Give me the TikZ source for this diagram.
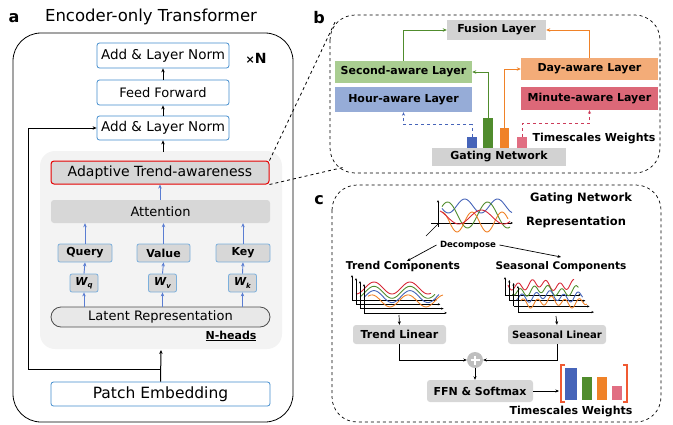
\documentclass[tikz,border=0pt]{standalone}
\usepackage{fontspec}
\setmainfont{DejaVu Sans}
\usetikzlibrary{arrows.meta,calc}
\definecolor{lblue}{RGB}{66,140,205}
\definecolor{arrblue}{RGB}{90,125,210}
\definecolor{panelgray}{RGB}{243,243,243}
\definecolor{boxgray}{RGB}{215,215,215}
\definecolor{latgray}{RGB}{232,232,232}
\definecolor{fgray}{RGB}{210,210,210}
\definecolor{lgreen}{RGB}{169,205,145}
\definecolor{lbluefill}{RGB}{150,172,215}
\definecolor{lorange}{RGB}{243,172,120}
\definecolor{lpink}{RGB}{220,104,120}
\definecolor{cgreen}{RGB}{80,140,45}
\definecolor{cblue}{RGB}{70,100,185}
\definecolor{corange}{RGB}{240,130,40}
\definecolor{cpink}{RGB}{225,110,130}
\definecolor{cred}{RGB}{215,40,55}
\definecolor{dpink}{RGB}{205,60,90}
\definecolor{brk}{RGB}{240,90,50}
\newcommand\fs[1]{\fontsize{#1}{#1}\selectfont}
\begin{document}
\begin{tikzpicture}[x=1pt,y=-1pt,
  bbox/.style={draw=lblue,line width=0.8pt,rounded corners=2.5pt,fill=white,inner sep=0pt},
  qbox/.style={draw=lblue!70,line width=0.8pt,rounded corners=2pt,fill=boxgray,inner sep=0pt},
  gbox/.style={fill=fgray,inner sep=0pt},
  rbox/.style={fill=boxgray,rounded corners=3pt,inner sep=0pt},
  blk/.style={-{Stealth[length=4pt,width=3.5pt]},line width=1pt},
  blu/.style={-{Stealth[length=4pt,width=3.5pt]},line width=0.9pt,draw=arrblue},
  thn/.style={-{Stealth[length=3.5pt,width=3pt]},line width=0.7pt},
  lay/.style={inner sep=0pt,font=\fs{11}\bfseries},
  ax/.style={-{Stealth[length=2.5pt,width=2.2pt]},line width=0.6pt},
  cv/.style={line width=0.9pt}]
\useasboundingbox (0,0) rectangle (673,424);
% ---------------- panel a ----------------
\node (la) at (14,18) {\fs{16}\bfseries a};
\node (ta) at (151,17) {\fs{16.5}Encoder-only Transformer};
\draw[line width=0.8pt,rounded corners=28pt] (13,33) rectangle (293,422);
\node (aln2) [bbox,minimum width=132pt,minimum height=25pt] at (163,55.5) {\fs{13.5}Add \& Layer Norm};
\node (xn) at (256,58) {{\fs{11}\bfseries ×}{\fs{14}\bfseries N}};
\node (ff) [bbox,minimum width=132pt,minimum height=25pt] at (163,92.5) {\fs{13}Feed Forward};
\node (aln1) [bbox,minimum width=132pt,minimum height=24pt] at (163,128) {\fs{13.5}Add \& Layer Norm};
\fill[panelgray,rounded corners=15pt] (40,151) rectangle (282,349);
\coordinate (ptop) at (163,152);
\coordinate (pbot) at (161,350);
\node (ata) [draw=red!90!black,line width=1pt,fill=boxgray,rounded corners=3pt,inner sep=0pt,minimum width=218pt,minimum height=23pt] at (160,172.5) {\fs{14}Adaptive Trend-awareness};
\node (att) [rbox,minimum width=219pt,minimum height=23pt] at (160.5,211.5) {\fs{13}Attention};
\node (qu) [qbox,minimum width=54pt,minimum height=18pt] at (85,253) {\fs{11}\bfseries Query};
\node (va) [qbox,minimum width=53pt,minimum height=18pt] at (163.5,253) {\fs{11}\bfseries Value};
\node (ke) [qbox,minimum width=54pt,minimum height=18pt] at (243,253) {\fs{11}\bfseries Key};
\node (wq) [qbox,minimum width=28pt,minimum height=18pt] at (84,283) {\fs{11}\bfseries\itshape W\raisebox{-2.5pt}{\fs{7}q}};
\node (wv) [qbox,minimum width=28pt,minimum height=18pt] at (162.5,283) {\fs{11}\bfseries\itshape W\raisebox{-2.5pt}{\fs{7}v}};
\node (wk) [qbox,minimum width=28pt,minimum height=18pt] at (242.5,283) {\fs{11}\bfseries\itshape W\raisebox{-2.5pt}{\fs{7}k}};
\node (lat) [draw=black!70,line width=0.8pt,fill=latgray,rounded corners=10pt,inner sep=0pt,minimum width=219pt,minimum height=20pt] at (160.5,317) {\fs{13}Latent Representation};
\node (nh) at (231,336) {\fs{11}\bfseries\underline{N-heads}};
\node (pe) [bbox,minimum width=219pt,minimum height=24pt] at (160.5,394) {\fs{15.5}Patch Embedding};
% arrows a
\draw[blk] (aln1.north) -- (ff.south);
\draw[blk] (ff.north) -- (aln2.south);
\draw[blk] (ptop) -- (aln1.south);
\draw[blu] (att.north -| ata.south) -- (ata.south);
\foreach \w/\q in {wq/qu,wv/va,wk/ke}{
  \draw[blu] (lat.north -| \w.south) -- (\w.south);
  \draw[blu] (\w.north) -- (\q.south);
  \draw[blu] (\q.north) -- (att.south -| \q.north);
}
\coordinate (j) at (161,369);
\draw[blk] (pe.north) -- (pbot);
\draw[line width=1pt] (j) -- (28,369) -- (28,128);
\draw[blk] (28,128) -- (aln1.west);
% ---------------- panel b ----------------
\node (lb) at (319,18) {\fs{16}\bfseries b};
\draw[dashed,line width=0.7pt,rounded corners=25pt] (330,15) rectangle (660,173);
\coordinate (bc1) at (336,20);
\coordinate (bc2) at (345,167);
\draw[dashed,line width=0.8pt] (ata.north east) -- (bc1);
\draw[dashed,line width=0.8pt] (ata.south east) -- (bc2);
\node (fu) [gbox,minimum width=99pt,minimum height=20pt,font=\fs{11}\bfseries] at (496.5,30) {Fusion Layer};
\node (se) [lay,fill=lgreen,minimum width=137pt,minimum height=22pt] at (403.5,72) {Second-aware Layer};
\node (ho) [lay,fill=lbluefill,minimum width=137pt,minimum height=25pt] at (403.5,99.5) {Hour-aware Layer};
\node (da) [lay,fill=lorange,minimum width=137pt,minimum height=22pt] at (589.5,69) {Day-aware Layer};
\node (mi) [lay,fill=lpink,minimum width=137pt,minimum height=23pt] at (589.5,98.5) {Minute-aware Layer};
\node (ga) [gbox,minimum width=134pt,minimum height=18pt,font=\fs{11}\bfseries] at (499,157) {Gating Network};
\node (bb) [fill=cblue,inner sep=0pt,minimum width=10pt,minimum height=11pt,anchor=south] at (472,148) {};
\node (bg) [fill=cgreen,inner sep=0pt,minimum width=10pt,minimum height=30pt,anchor=south] at (488,148) {};
\node (bo) [fill=corange,inner sep=0pt,minimum width=9pt,minimum height=20pt,anchor=south] at (504.5,148) {};
\node (bp) [fill=cpink,inner sep=0pt,minimum width=10pt,minimum height=11pt,anchor=south] at (522,148) {};
\node (tw1) at (594,139) {\fs{11}\bfseries Timescales Weights};
\draw[-{Stealth[length=4pt,width=3.5pt]},line width=1pt,cgreen] (se.north) |- (fu.west);
\draw[-{Stealth[length=4pt,width=3.5pt]},line width=1pt,cgreen] (bg.north) |- (se.east);
\draw[-{Stealth[length=4pt,width=3.5pt]},line width=1pt,corange] (da.north) |- (fu.east);
\draw[-{Stealth[length=4pt,width=3.5pt]},line width=1pt,corange] (bo.north) |- (da.west);
\draw[-{Stealth[length=3.5pt,width=3pt]},line width=0.9pt,cblue,dashed] (bb.north) -- ++(0,-12) -| (ho.south);
\draw[-{Stealth[length=3.5pt,width=3pt]},line width=0.9pt,dpink,dashed] (bp.north) -- ++(0,-13) -| (mi.south);
% ---------------- panel c ----------------
\node (lc) at (319,200) {\fs{16}\bfseries c};
\draw[dashed,line width=0.7pt,rounded corners=25pt] (332,185) rectangle (661,422);
\node (gn) at (581,198) {\fs{11.5}\bfseries Gating Network};
\node (rp) at (576,222) {\fs{11.5}\bfseries Representation};
% top decomposition chart
\draw[ax] (438,227) -- (438,200);
\draw[ax] (431,223) -- (513,223);
\draw[line width=0.6pt] (438,224) -- (426,236);
\draw[cv,cblue] plot[domain=0:70,samples=50,smooth] ({442+\x},{206+7*sin(\x*11+20)});
\draw[cv,cgreen] plot[domain=0:68,samples=50,smooth] ({442+\x},{215-13*sin(\x*9+40)});
\draw[cv,corange] plot[domain=0:66,samples=50,smooth] ({442+\x},{222-10*sin(\x*12+90)});
\draw[cv,cred] plot[domain=0:70,samples=50,smooth] ({440+\x},{217+7*sin(\x*8-60)});
\node (dc) at (468,245) {\fs{8.6}\bfseries Decompose};
\node (tc) at (403,267) {\fs{10.8}\bfseries Trend Components};
\node (sc) at (561,267) {\fs{10.5}\bfseries Seasonal Components};
\draw[thn] (dc.west) -- (407,261);
\draw[thn] (dc.east) -- (561,257);
% trend chart
\foreach \i/\col/\ph in {0/cred/0,1/cgreen/40,2/cblue/80,3/corange/140}{
  \draw[ax] ({352+4*\i},{300+4.3*\i}) -- ({352+4*\i},{275+3*\i});
  \draw[ax] ({352+4*\i},{300+4.3*\i}) -- ({437+3.3*\i},{300+4.3*\i});
  \draw[cv,\col] plot[domain=0:75,samples=50,smooth] ({356+4*\i+\x},{300+4.3*\i-12+6*cos(\x*10+\ph)});
}
% seasonal chart
\foreach \i/\col/\ph in {0/cred/0,1/cgreen/60,2/cblue/120,3/corange/200}{
  \draw[ax] ({505+4.3*\i},{295+5.7*\i}) -- ({505+4.3*\i},{277+3*\i});
  \draw[ax] ({505+4.3*\i},{295+5.7*\i}) -- ({581+4.3*\i},{295+5.7*\i});
  \draw[cv,\col] plot[domain=0:66,samples=70,smooth] ({508+4.3*\i+\x},{295+5.7*\i-10+4*sin(\x*26+\ph)+2*sin(\x*9)});
}
\coordinate (ta1) at (399,315);
\coordinate (sa1) at (556,316);
\node (tl) [rbox,minimum width=93pt,minimum height=19pt] at (399.5,334.5) {\fs{11}\bfseries Trend Linear};
\node (sl) [rbox,minimum width=98pt,minimum height=19pt] at (557,334.5) {\fs{10}\bfseries Seasonal Linear};
\draw[thn] (ta1) -- (tl.north);
\draw[thn] (sa1) -- (sl.north);
\node (pl) [circle,fill=black!25,inner sep=0pt,minimum size=16pt] at (475,360) {};
\draw[white,line width=2.2pt] (pl.center) ++(-4.5,0) -- ++(9,0) (pl.center) ++(0,-4.5) -- ++(0,9);
\draw[thn] (tl.south) |- (pl.west);
\draw[thn] (sl.south) |- (pl.east);
\node (ffn) [rbox,minimum width=106pt,minimum height=22pt] at (480,391) {\fs{11}\bfseries FFN \& Softmax};
\draw[thn] (pl.south) -- (ffn.north -| pl.south);
\coordinate (bl) at (559,391);
\draw[thn] (ffn.east) -- (bl);
\draw[brk,line width=1.2pt] (565,365) -- (561,365) -- (561,402) -- (565,402);
\draw[brk,line width=1.2pt] (623,365) -- (627,365) -- (627,402) -- (623,402);
\fill[cblue] (565,368) rectangle (577,400);
\fill[cgreen] (582,377) rectangle (592,400);
\fill[corange] (597,377) rectangle (607,400);
\fill[cpink] (612,386) rectangle (622,400);
\node (tw2) at (571,412) {\fs{11}\bfseries Timescales Weights};
\end{tikzpicture}
\end{document}
